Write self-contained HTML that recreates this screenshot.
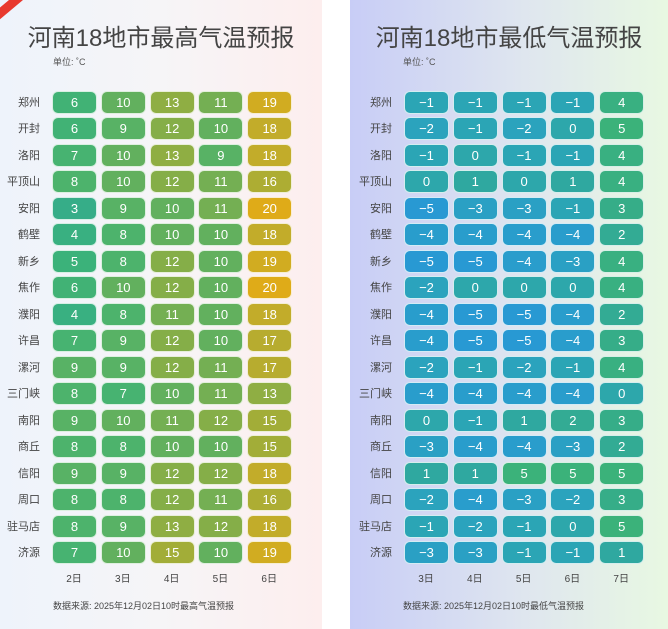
<!DOCTYPE html><html><head><meta charset="utf-8"><style>
body{margin:0;width:668px;height:629px;background:#fff;position:relative;overflow:hidden;font-family:"Liberation Sans","Noto Sans CJK SC",sans-serif}
.p{position:absolute;top:0;height:629px;overflow:hidden}
.t{position:absolute;top:18px;width:100%;text-align:center;font-size:24px;color:#444}
.u{position:absolute;top:55px;font-size:9px;color:#555}
.lab{position:absolute;width:40px;text-align:right;font-size:11px;color:#444}
.c{position:absolute;width:43px;height:21px;border-radius:6px;border:1px solid rgba(255,255,255,.8);color:#fff;font-size:13px;text-align:center;line-height:21px}
.d{position:absolute;font-size:10px;color:#444;width:44px;text-align:center}
.f{position:absolute;top:599px;font-size:9px;color:#444}
</style></head><body>
<div class="p" id="L" style="left:0;width:322px;background:linear-gradient(90deg,#eef3fb,#f6f5f7 50%,#fdeeee)">
<div style="position:absolute;left:-22px;top:-2px;width:70px;height:9px;background:#e8392e;transform:rotate(-40deg)"></div>
<div class="t">河南18地市最高气温预报</div><div class="u" style="left:53px">单位: ˚C</div>
<div class="f" style="left:53px">数据来源: 2025年12月02日10时最高气温预报</div></div>
<div class="p" id="R" style="left:350px;width:318px;background:linear-gradient(90deg,#c8cdf6,#dfe6ef 55%,#e8f8e2)">
<div class="t">河南18地市最低气温预报</div><div class="u" style="left:53px">单位: ˚C</div>
<div class="f" style="left:53px">数据来源: 2025年12月02日10时最低气温预报</div></div>
<script>
var cities="郑州 开封 洛阳 平顶山 安阳 鹤壁 新乡 焦作 濮阳 许昌 漯河 三门峡 南阳 商丘 信阳 周口 驻马店 济源".split(" ");
var hi=[[6,10,13,11,19],[6,9,12,10,18],[7,10,13,9,18],[8,10,12,11,16],[3,9,10,11,20],[4,8,10,10,18],[5,8,12,10,19],[6,10,12,10,20],[4,8,11,10,18],[7,9,12,10,17],[9,9,12,11,17],[8,7,10,11,13],[9,10,11,12,15],[8,8,10,10,15],[9,9,12,12,18],[8,8,12,11,16],[8,9,13,12,18],[7,10,15,10,19]];
var lo=[[-1,-1,-1,-1,4],[-2,-1,-2,0,5],[-1,0,-1,-1,4],[0,1,0,1,4],[-5,-3,-3,-1,3],[-4,-4,-4,-4,2],[-5,-5,-4,-3,4],[-2,0,0,0,4],[-4,-5,-5,-4,2],[-4,-5,-5,-4,3],[-2,-1,-2,-1,4],[-4,-4,-4,-4,0],[0,-1,1,2,3],[-3,-4,-4,-3,2],[1,1,5,5,5],[-2,-4,-3,-2,3],[-1,-2,-1,0,5],[-3,-3,-1,-1,1]];
var st=[[-5,[40,153,211]],[-3,[42,160,196]],[-1,[43,165,181]],[1,[47,168,160]],[3,[54,173,136]],[5,[59,178,122]],[8,[77,179,108]],[10,[98,176,94]],[12,[133,174,72]],[15,[162,173,56]],[18,[194,172,42]],[20,[223,171,24]]];
function col(v){for(var i=0;i<st.length-1;i++){if(v<=st[i+1][0]){var a=st[i],b=st[i+1],t=Math.max(0,(v-a[0])/(b[0]-a[0]));return "rgb("+a[1].map(function(x,k){return Math.round(x+(b[1][k]-x)*t)}).join(",")+")"}}return "rgb(223,171,24)"}
function build(id,data,days,x0){var p=document.getElementById(id),h="";
cities.forEach(function(c,r){var y=91+r*26.47;h+='<div class="lab" style="left:'+(x0-52)+'px;top:'+(y+3)+'px">'+c+'</div>';
data[r].forEach(function(v,k){h+='<div class="c" style="left:'+(x0+k*48.8)+'px;top:'+y+'px;background:'+col(v)+'">'+(v<0?'−'+(-v):v)+'</div>'})});
days.forEach(function(d,k){h+='<div class="d" style="left:'+(x0+k*48.8)+'px;top:570px">'+d+'</div>'});p.insertAdjacentHTML("beforeend",h)}
build("L",hi,["2日","3日","4日","5日","6日"],52);
build("R",lo,["3日","4日","5日","6日","7日"],54);
</script></body></html>
